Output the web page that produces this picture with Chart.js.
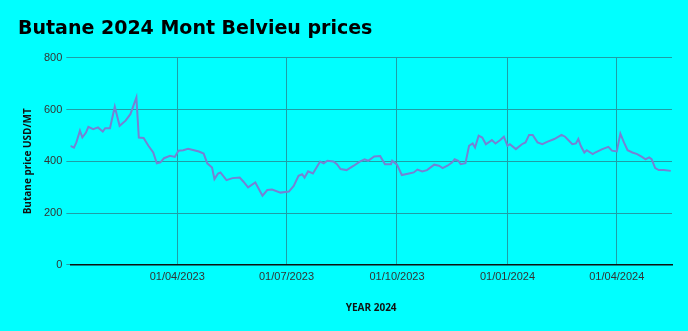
<!DOCTYPE html>
<html>
<head>
<meta charset="utf-8">
<script src="https://cdn.jsdelivr.net/npm/chart.js@4.4.1/dist/chart.umd.min.js"></script>
<style>
  html, body { margin: 0; padding: 0; background: #00ffff; }
  #wrap { width: 688px; height: 331px; }
</style>
</head>
<body>
<div id="wrap"><canvas id="chart"></canvas></div>
<script>
// price dates
const dates = [
  '2023-01-02', '2023-01-05', '2023-01-07', '2023-01-10', '2023-01-12', '2023-01-15', '2023-01-17', '2023-01-21',
  '2023-01-25', '2023-01-29', '2023-01-31', '2023-02-04', '2023-02-08', '2023-02-12', '2023-02-17', '2023-02-21',
  '2023-02-26', '2023-02-28', '2023-03-04', '2023-03-08', '2023-03-12', '2023-03-15', '2023-03-18', '2023-03-21',
  '2023-03-26', '2023-03-30', '2023-04-02', '2023-04-06', '2023-04-10', '2023-04-15', '2023-04-19', '2023-04-23',
  '2023-04-26', '2023-04-30', '2023-05-02', '2023-05-05', '2023-05-07', '2023-05-12', '2023-05-17', '2023-05-23',
  '2023-05-26', '2023-05-30', '2023-06-05', '2023-06-11', '2023-06-15', '2023-06-19', '2023-06-26', '2023-07-03',
  '2023-07-07', '2023-07-11', '2023-07-14', '2023-07-16', '2023-07-19', '2023-07-23', '2023-07-26', '2023-07-29',
  '2023-08-01', '2023-08-04', '2023-08-09', '2023-08-12', '2023-08-15', '2023-08-20', '2023-08-26', '2023-08-31',
  '2023-09-04', '2023-09-07', '2023-09-12', '2023-09-17', '2023-09-21', '2023-09-26', '2023-09-27', '2023-10-01',
  '2023-10-05', '2023-10-11', '2023-10-15', '2023-10-18', '2023-10-22', '2023-10-26', '2023-11-01', '2023-11-05',
  '2023-11-08', '2023-11-12', '2023-11-16', '2023-11-18', '2023-11-21', '2023-11-23', '2023-11-27', '2023-11-30',
  '2023-12-03', '2023-12-05', '2023-12-08', '2023-12-11', '2023-12-14', '2023-12-19', '2023-12-22', '2023-12-26',
  '2023-12-29', '2024-01-01', '2024-01-03', '2024-01-08', '2024-01-13', '2024-01-16', '2024-01-19', '2024-01-22',
  '2024-01-26', '2024-01-30', '2024-02-03', '2024-02-09', '2024-02-15', '2024-02-18', '2024-02-24', '2024-02-27',
  '2024-02-29', '2024-03-02', '2024-03-05', '2024-03-07', '2024-03-12', '2024-03-14', '2024-03-20', '2024-03-25',
  '2024-03-28', '2024-04-01', '2024-04-04', '2024-04-07', '2024-04-10', '2024-04-14', '2024-04-18', '2024-04-22',
  '2024-04-25', '2024-04-28', '2024-04-30', '2024-05-03', '2024-05-06', '2024-05-10', '2024-05-16'
];

// butane price, USD/MT
const prices = [
  460, 453, 473, 518, 492, 511, 533, 524,
  531, 515, 528, 528, 611, 537, 557, 582,
  647, 492, 490, 460, 434, 392, 396, 412,
  421, 417, 441, 443, 448, 443, 438, 430,
  392, 376, 331, 353, 357, 327, 335, 337,
  322, 299, 318, 267, 289, 291, 279, 283,
  305, 344, 350, 337, 361, 353, 376, 399,
  392, 402, 399, 389, 370, 366, 383, 399,
  408, 402, 419, 420, 389, 389, 402, 387,
  347, 353, 357, 368, 361, 366, 387, 383,
  374, 383, 396, 408, 402, 389, 393, 460,
  469, 453, 499, 492, 466, 482, 469, 482,
  495, 460, 466, 447, 466, 473, 502, 502,
  473, 466, 475, 486, 502, 495, 466, 469,
  486, 460, 434, 443, 428, 434, 447, 456,
  441, 438, 507, 473, 443, 434, 428, 417,
  408, 415, 408, 374, 366, 366, 363
];

const tickDates = ['2023-04-01', '2023-07-01', '2023-10-01', '2024-01-01', '2024-04-01'];
const tickLabels = ['01/04/2023', '01/07/2023', '01/10/2023', '01/01/2024', '01/04/2024'];

const DAY = 86400000;
const origin = Date.parse('2023-01-01');
const toDay = s => (Date.parse(s) - origin) / DAY;

const points = dates.map((d, i) => ({ x: toDay(d), y: prices[i] }));
const tickDays = tickDates.map(toDay);

const gridColor = '#1f9ea6';

new Chart(document.getElementById('chart'), {
    type: 'line',
    data: {
        datasets: [{
            data: points,
            borderColor: '#7482d4',
            borderWidth: 2,
            pointRadius: 0,
            tension: 0,
            fill: false
        }]
    },
    options: {
        responsive: true,
        maintainAspectRatio: false,
        animation: false,
        layout: { padding: { left: 18, right: 16, top: 0, bottom: 13 } },
        plugins: {
            legend: { display: false },
            tooltip: { enabled: false },
            title: {
                display: true,
                text: 'Butane 2024 Mont Belvieu prices',
                align: 'start',
                color: '#000',
                font: { family: 'DejaVu Sans', size: 19, weight: 'bold' },
                padding: { top: 18, bottom: 17 }
            }
        },
        scales: {
            x: {
                type: 'linear',
                min: 1,
                max: 502,
                afterBuildTicks: axis => {
                    axis.ticks = tickDays.map(v => ({ value: v }));
                },
                ticks: {
                    autoSkip: false,
                    maxRotation: 0,
                    color: '#333',
                    font: { family: 'Liberation Sans', size: 11 },
                    padding: 6,
                    callback: (v) => tickLabels[tickDays.indexOf(v)]
                },
                grid: { color: gridColor, lineWidth: 1, drawTicks: false },
                border: { display: true, color: '#111', width: 1.5 },
                title: {
                    display: true,
                    text: 'YEAR 2024',
                    color: '#111',
                    font: { family: 'Open Sans', size: 10, weight: 'bold' },
                    padding: { top: 12 }
                }
            },
            y: {
                min: 0,
                max: 800,
                ticks: {
                    stepSize: 200,
                    color: '#333',
                    font: { family: 'Liberation Sans', size: 11 },
                    padding: 4
                },
                grid: { color: gridColor, lineWidth: 1, tickLength: 4 },
                border: { display: false },
                title: {
                    display: true,
                    text: 'Butane price USD/MT',
                    color: '#111',
                    font: { family: 'Open Sans', size: 10, weight: 'bold' },
                    padding: { top: 4, bottom: 6 }
                }
            }
        }
    }
});
</script>
</body>
</html>
